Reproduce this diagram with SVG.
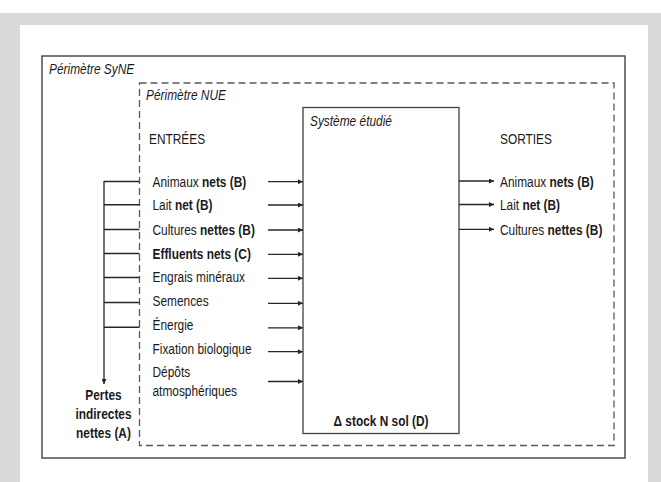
<svg xmlns="http://www.w3.org/2000/svg" width="661" height="482" viewBox="0 0 661 482">
<defs>
<style>
.t{font-family:"Liberation Sans",Arial,sans-serif;font-size:14.5px;fill:#1a1a1a}
.it{font-style:italic}
.b{font-weight:bold}
.ln{stroke:#262626;stroke-width:1.4;fill:none}
.ar{stroke:#262626;stroke-width:1.3;fill:none;marker-end:url(#ah)}
</style>
<marker id="ah" viewBox="0 0 6 6" refX="6" refY="3" markerWidth="5" markerHeight="5" markerUnits="userSpaceOnUse" orient="auto">
<path d="M0,0 L6,3 L0,6 Z" fill="#262626"/>
</marker>
</defs>
<rect x="0" y="0" width="661" height="482" fill="#ffffff"/>
<path d="M0,13 H661 V482 H648 V25 H20 V482 H0 Z" fill="#d9d9d9"/>

<g id="perimetre-syne">
<rect x="42" y="56" width="583" height="402" fill="none" stroke="#404040" stroke-width="1.4"/>
<g transform="scale(0.82 1)"><text class="t it" x="59.76" y="74">Périmètre SyNE</text></g>
</g>
<g id="perimetre-nue">
<rect x="139.5" y="83" width="474.5" height="362.5" fill="none" stroke="#595959" stroke-width="1.3" stroke-dasharray="7 4"/>
<g transform="scale(0.82 1)"><text class="t it" x="178.05" y="100.5">Périmètre NUE</text></g>
</g>
<g id="systeme">
<rect x="303" y="107.5" width="156" height="326" fill="#ffffff" stroke="#404040" stroke-width="1.3"/>
<g transform="scale(0.82 1)">
<text class="t it" x="378.05" y="126">Système étudié</text>
<text class="t b" x="464.63" y="426.5" text-anchor="middle">Δ stock N sol (D)</text>
</g>
</g>
<g id="entrees">
<g transform="scale(0.82 1)">
<text class="t" x="181.71" y="144.5">ENTRÉES</text>
<text class="t" x="185.98" y="187.5">Animaux <tspan class="b">nets (B)</tspan></text>
<text class="t" x="185.98" y="210.5">Lait <tspan class="b">net (B)</tspan></text>
<text class="t" x="185.98" y="235">Cultures <tspan class="b">nettes (B)</tspan></text>
<text class="t b" x="185.98" y="259">Effluents nets (C)</text>
<text class="t" x="185.98" y="282.5">Engrais minéraux</text>
<text class="t" x="185.98" y="306.5">Semences</text>
<text class="t" x="185.98" y="330.5">Énergie</text>
<text class="t" x="185.98" y="354.5">Fixation biologique</text>
<text class="t" x="185.98" y="377.5">Dépôts</text>
<text class="t" x="185.98" y="396">atmosphériques</text>
</g>
</g>
<g id="sorties">
<g transform="scale(0.82 1)">
<text class="t" x="609.76" y="144.5">SORTIES</text>
<text class="t" x="609.76" y="187.5">Animaux <tspan class="b">nets (B)</tspan></text>
<text class="t" x="609.76" y="210.5">Lait <tspan class="b">net (B)</tspan></text>
<text class="t" x="609.76" y="235">Cultures <tspan class="b">nettes (B)</tspan></text>
</g>
</g>
<g id="pertes">
<g transform="scale(0.82 1)">
<text class="t b" x="126.22" y="400.5" text-anchor="middle">Pertes</text>
<text class="t b" x="126.22" y="419" text-anchor="middle">indirectes</text>
<text class="t b" x="126.22" y="438" text-anchor="middle">nettes (A)</text>
</g>
</g>
<g id="connectors">
<path class="ln" d="M139.5,181.5 H104 M139.5,204.8 H104 M139.5,229.5 H104 M139.5,253.5 H104 M139.5,277.5 H104 M139.5,302.5 H104 M139.5,327.3 H104"/>
<path class="ar" d="M104,181 V384"/>
<path class="ar" d="M268,181.7 H303"/>
<path class="ar" d="M268,205 H303"/>
<path class="ar" d="M268,230 H303"/>
<path class="ar" d="M268,254.3 H303"/>
<path class="ar" d="M268,278.3 H303"/>
<path class="ar" d="M268,303.3 H303"/>
<path class="ar" d="M268,327.8 H303"/>
<path class="ar" d="M268,351.7 H303"/>
<path class="ar" d="M268,381.5 H303"/>
<path class="ar" d="M459,181 H494"/>
<path class="ar" d="M459,204.5 H494"/>
<path class="ar" d="M459,229.3 H494"/>
</g>
</svg>
